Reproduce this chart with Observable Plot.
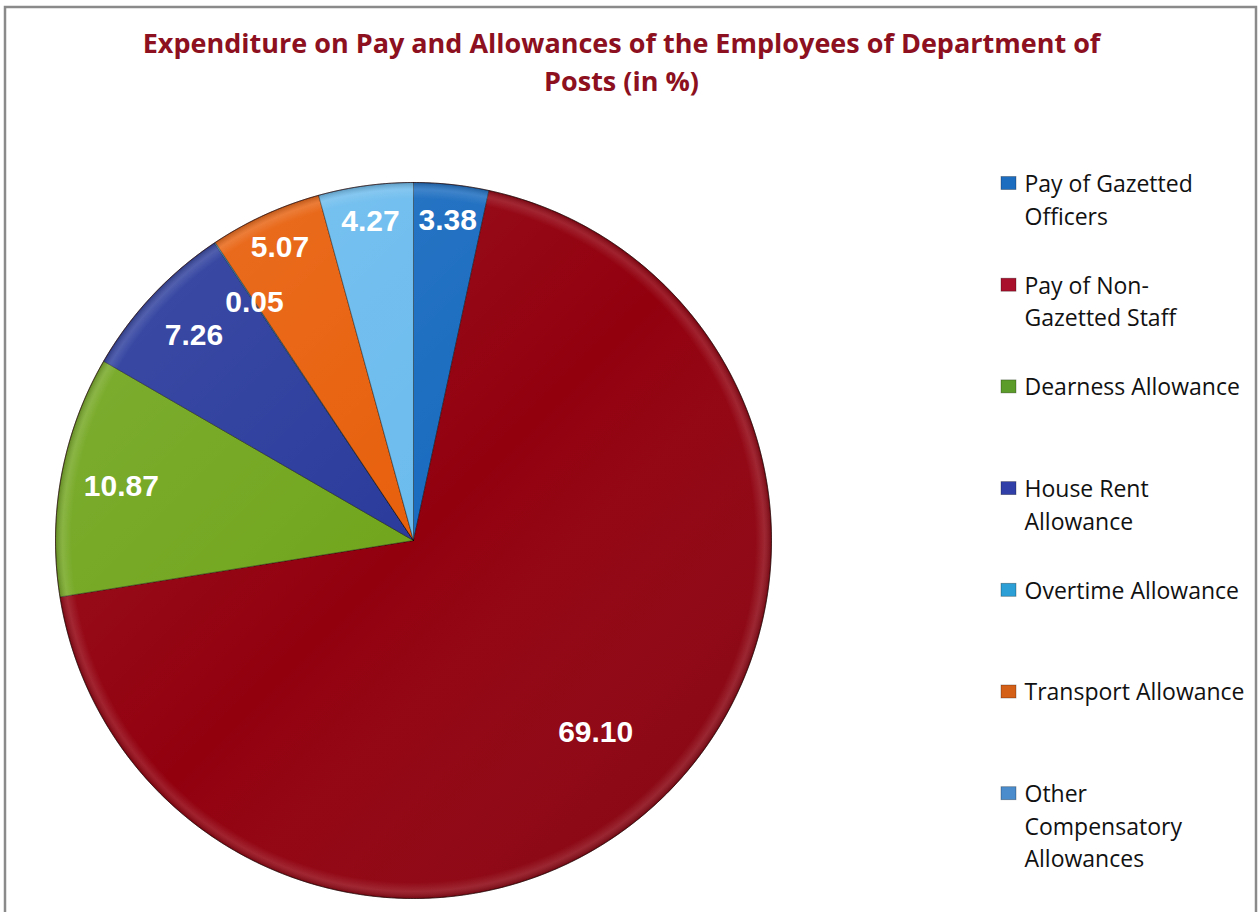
<!DOCTYPE html>
<html><head><meta charset="utf-8">
<script src="https://cdn.jsdelivr.net/npm/d3@7"></script>
<script src="https://cdn.jsdelivr.net/npm/@observablehq/plot@0.6"></script>
<style>html,body{margin:0;padding:0;background:#fff;overflow:hidden;} #chart svg{display:block;}</style>
</head><body><div id="chart"></div>
<script>
// ---- data ----
const categories = ["Pay of Gazetted Officers", "Pay of Non-Gazetted Staff", "Dearness Allowance", "House Rent Allowance", "Overtime Allowance", "Transport Allowance", "Other Compensatory Allowances"];
const values = [3.38, 69.10, 10.87, 7.26, 0.05, 5.07, 4.27];
const valueLabels = ["3.38", "69.10", "10.87", "7.26", "0.05", "5.07", "4.27"];
const legendLines = [["Pay of Gazetted", "Officers"], ["Pay of Non-", "Gazetted Staff"], ["Dearness Allowance"], ["House Rent", "Allowance"], ["Overtime Allowance"], ["Transport Allowance"], ["Other", "Compensatory", "Allowances"]];
const sliceColors = ["#1a6cc0", "#92000e", "#72a61e", "#2a3b9c", "#2aa3dc", "#e8600c", "#6cbcee"];
const legendColors = ["#1c6cc0", "#a8102c", "#5c9c2a", "#3040a8", "#2b9fd6", "#d46018", "#4a8ccc"];
const titleLines = ["Expenditure on Pay and Allowances of the Employees of Department of", "Posts (in %)"];

// ---- layout ----
const W = 1258, H = 912, cx = 413, cy = 540, R = 358;
const labelRadius = [0.9, 0.74, 0.83, 0.84, 0.8, 0.9, 0.9];

const total = d3.sum(values);
let acc = 0;
const slices = values.map((v, i) => {
  const a0 = acc / total * 2 * Math.PI; acc += v;
  const a1 = acc / total * 2 * Math.PI;
  return {i, name: categories[i], a0, a1, v};
});
const pts = [];
for (const s of slices) {
  const c = sliceColors[s.i];
  pts.push({slice: s.name, x: cx, y: cy, fill: c});
  const n = Math.max(2, Math.ceil((s.a1 - s.a0) / (Math.PI / 360)));
  for (let k = 0; k <= n; k++) {
    const a = s.a0 + (s.a1 - s.a0) * k / n;
    pts.push({slice: s.name, x: cx + R * Math.sin(a), y: cy - R * Math.cos(a), fill: c});
  }
  pts.push({slice: s.name, x: cx, y: cy, fill: c});
}
const circle = d3.range(0, 721).map(k => ({x: cx + R * Math.sin(k / 720 * 2 * Math.PI), y: cy - R * Math.cos(k / 720 * 2 * Math.PI)}));
const labels = slices.map(s => {
  const a = (s.a0 + s.a1) / 2, f = labelRadius[s.i];
  return {x: cx + R * f * Math.sin(a), y: cy - R * f * Math.cos(a), text: valueLabels[s.i]};
});
const legY0 = 184, legStep = 101.7, legGap = 32.7, legX = 1024;
const legText = [];
legendLines.forEach((lines, i) => lines.forEach((t, j) => legText.push({x: legX, y: legY0 + i * legStep + j * legGap, text: t})));
const legRects = categories.map((c, i) => ({x1: 1001, x2: 1016, y1: legY0 - 7.5 + i * legStep, y2: legY0 + 5.5 + i * legStep, fill: legendColors[i]}));

const chart = Plot.plot({
  width: W, height: H, margin: 0,
  x: {type: "identity", axis: null},
  y: {type: "identity", axis: null},
  color: {type: "identity"},
  style: {background: "#fff"},
  marks: [
    Plot.rect([{x1: 5, x2: 1256, y1: 7, y2: 960}], {x1: "x1", x2: "x2", y1: "y1", y2: "y2", fill: "none", stroke: "#8a8a8a", strokeWidth: 2.5}),
    Plot.line(pts, {x: "x", y: "y", z: "slice", fill: "fill", stroke: "rgba(0,0,0,0.45)", strokeWidth: 0.9, curve: "linear"}),
    Plot.line(circle, {x: "x", y: "y", fill: "url(#shadeLin)", stroke: "none", curve: "linear"}),
    Plot.line(circle, {x: "x", y: "y", fill: "url(#shadeRim)", stroke: "rgba(40,0,0,0.55)", strokeWidth: 1, curve: "linear"}),
    Plot.text(labels, {x: "x", y: "y", text: "text", fill: "#fff", fontSize: 30, fontWeight: "bold", fontFamily: "Liberation Sans, Arial, sans-serif", textAnchor: "middle", lineAnchor: "middle"}),
    Plot.rect(legRects, {x1: "x1", x2: "x2", y1: "y1", y2: "y2", fill: "fill", stroke: "rgba(0,0,0,0.35)", strokeWidth: 0.8}),
    Plot.text(legText, {x: "x", y: "y", text: "text", fill: "#111", fontSize: 23, fontFamily: "Open Sans, sans-serif", textAnchor: "start", lineAnchor: "middle"}),
    Plot.text(titleLines.map((t, i) => ({x: 621, y: 43.5 + i * 38, text: t})), {x: "x", y: "y", text: "text", fill: "#8c1020", fontSize: 27, fontWeight: "bold", fontFamily: "Open Sans, sans-serif", textAnchor: "middle", lineAnchor: "middle"})
  ]
});
const defs = document.createElementNS("http://www.w3.org/2000/svg", "defs");
defs.innerHTML = `
<linearGradient id="shadeLin" gradientUnits="userSpaceOnUse" x1="${cx - R}" y1="${cy - R}" x2="${cx + R}" y2="${cy + R}">
  <stop offset="0" stop-color="#fff" stop-opacity="0.1"/>
  <stop offset="0.5" stop-color="#fff" stop-opacity="0"/>
  <stop offset="1" stop-color="#000" stop-opacity="0.15"/>
</linearGradient>
<radialGradient id="shadeRim" gradientUnits="userSpaceOnUse" cx="${cx}" cy="${cy}" r="${R}">
  <stop offset="0" stop-color="#fff" stop-opacity="0"/>
  <stop offset="0.955" stop-color="#fff" stop-opacity="0"/>
  <stop offset="0.98" stop-color="#fff" stop-opacity="0.12"/>
  <stop offset="1" stop-color="#000" stop-opacity="0.2"/>
</radialGradient>`;
chart.insertBefore(defs, chart.firstChild);
document.getElementById("chart").appendChild(chart);
</script>
</body></html>
